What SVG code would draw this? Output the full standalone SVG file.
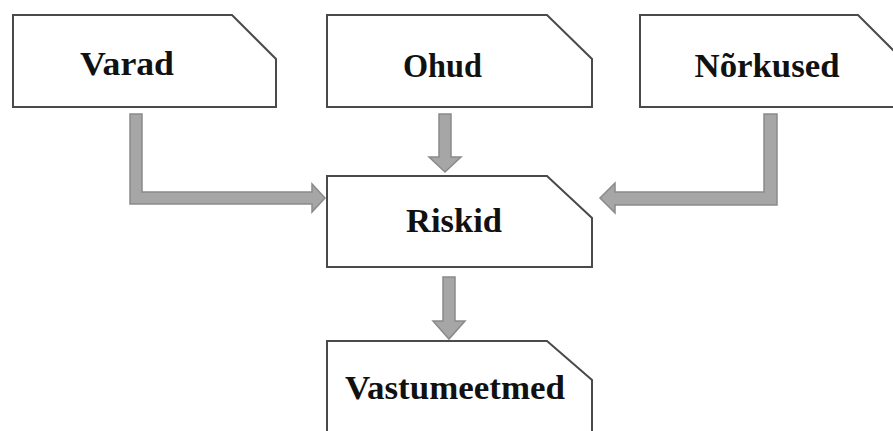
<svg xmlns="http://www.w3.org/2000/svg" width="893" height="431" viewBox="0 0 893 431">
<style>
.box{fill:#fff;stroke:#4a4a4a;stroke-width:2}
.lbl{font-family:"Liberation Serif","Times New Roman",serif;font-weight:bold;font-size:33px;fill:#111;text-anchor:middle}
.arr{fill:#a6a6a6;stroke:#8a8a8a;stroke-width:1.5;stroke-linejoin:miter}
</style>
<rect width="893" height="431" fill="#fff"/>
<g id="connectors">
<path class="arr" d="M130,114 H142 V192 H312 V184 L325,198 L312,212 V204 H130 Z"/>
<path class="arr" d="M439,114 H451 V157 H461 L445,172 L429,157 H439 Z"/>
<path class="arr" d="M764,114 H777 V205 H615 V213 L600,198 L615,183 V192 H764 Z"/>
<path class="arr" d="M443,277 H455 V321 H465 L449,339 L433,321 H443 Z"/>
</g>
<g id="varad">
<path class="box" d="M13,15 H232 L276,59 V107 H13 Z"/>
<text class="lbl" x="127" y="75" textLength="94" lengthAdjust="spacingAndGlyphs">Varad</text>
</g>
<g id="ohud">
<path class="box" d="M327,15 H547 L592,59 V107 H327 Z"/>
<text class="lbl" x="442.5" y="77" textLength="79" lengthAdjust="spacingAndGlyphs">Ohud</text>
</g>
<g id="norkused">
<path class="box" d="M640,15 H858 L902,59 V107 H640 Z"/>
<text class="lbl" x="767" y="77" textLength="145" lengthAdjust="spacingAndGlyphs">Nõrkused</text>
</g>
<g id="riskid">
<path class="box" d="M327,176 H547 L592,218 V267 H327 Z"/>
<text class="lbl" x="454" y="232" textLength="96" lengthAdjust="spacingAndGlyphs">Riskid</text>
</g>
<g id="vastumeetmed">
<path class="box" d="M327,341 H547 L592,380 V440 H327 Z"/>
<text class="lbl" x="455" y="399" textLength="220" lengthAdjust="spacingAndGlyphs">Vastumeetmed</text>
</g>
</svg>
